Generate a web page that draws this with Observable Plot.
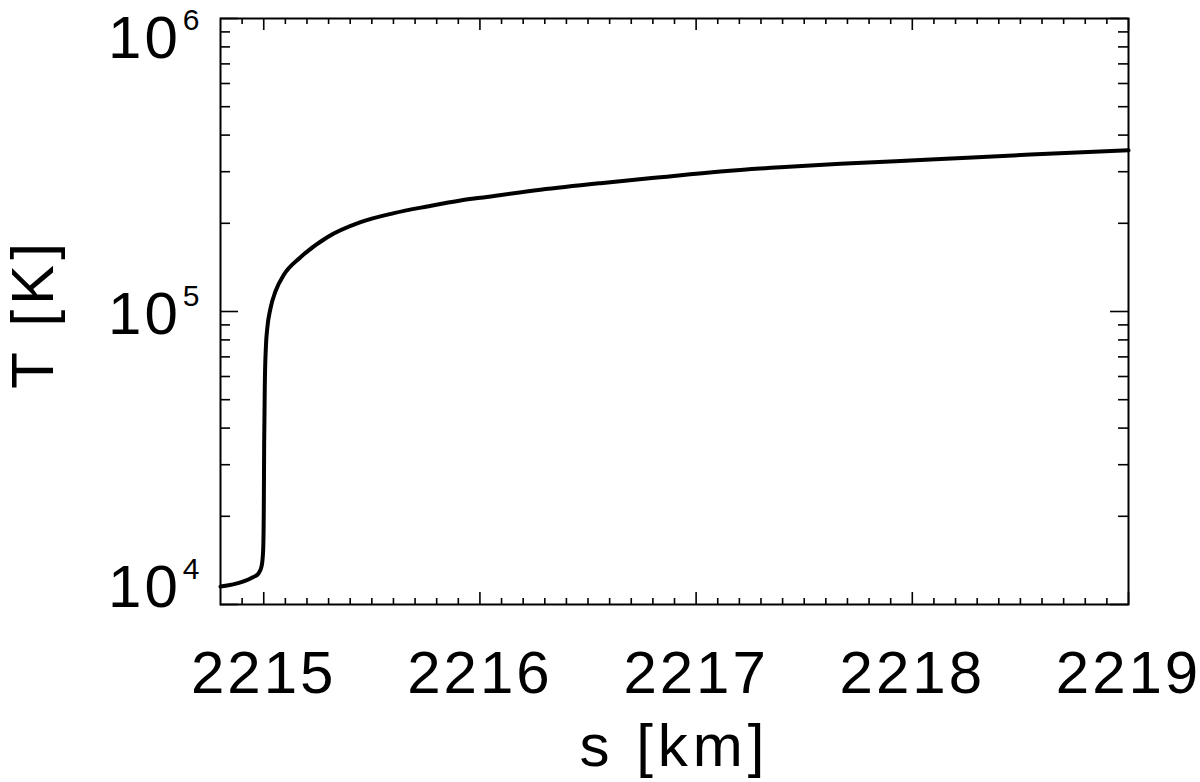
<!DOCTYPE html>
<html>
<head>
<meta charset="utf-8">
<script src="https://cdn.jsdelivr.net/npm/d3@7"></script>
<script src="https://cdn.jsdelivr.net/npm/@observablehq/plot@0.6"></script>
<style>
  html, body { margin: 0; padding: 0; background: #fff; }
  #chart svg text { font-family: "Liberation Sans", Arial, sans-serif; letter-spacing: 3px; }
  #chart svg g.title text { letter-spacing: 5px; }
</style>
</head>
<body>
<div id="chart"></div>
<script>
// Data
const sKm = [2214.80, 2214.90, 2214.95, 2214.975, 2214.99, 2214.997, 2215.000, 2215.002, 2215.005, 2215.010,
             2215.016, 2215.031, 2215.055, 2215.093, 2215.17, 2215.294, 2215.448, 2215.602, 2215.756, 2215.910,
             2216.003, 2216.280, 2216.558, 2216.835, 2217.113, 2217.390, 2217.668, 2218.084, 2218.547, 2219.0];
const tempK = [11510, 11940, 12390, 12740, 13490, 15140, 19950, 35480, 56230, 75860,
               87100, 102300, 117500, 133400, 153100, 179300, 201800, 216600, 228300, 239300,
               244500, 260300, 274200, 287300, 300500, 310800, 319200, 330200, 343400, 354800];

// Axis ticks
const xMajor = [2215, 2216, 2217, 2218, 2219];
const xLabels = ["2215", "2216", "2217", "2218", "2219"];
const xMinor = d3.range(2214.9, 2219.0, 0.1).filter(v => Math.abs(v - Math.round(v)) > 0.01);
const yMajor = [1e4, 1e5, 1e6];
const yExp = ["4", "5", "6"];
const yMinor = [2e4, 3e4, 4e4, 5e4, 6e4, 7e4, 8e4, 9e4, 2e5, 3e5, 4e5, 5e5, 6e5, 7e5, 8e5, 9e5];

const data = sKm.map((s, i) => ({s, T: tempK[i]}));

const W = 1200, H = 782;
const mL = 220, mR = 72, mT = 18, mB = 178;
const iw = W - mL - mR, ih = H - mT - mB;
const yLabelDy = [2, 22, 39];

const chart = Plot.plot({
  width: W,
  height: H,
  marginLeft: mL,
  marginRight: mR,
  marginTop: mT,
  marginBottom: mB,
  x: {domain: [2214.8, 2219], axis: null},
  y: {type: "log", domain: [1e4, 1e6], axis: null},
  marks: [
    // ticks, inward on all four sides
    Plot.tickX(xMajor, {x: d => d, insetTop: ih - 12, stroke: "black", strokeWidth: 1.6}),
    Plot.tickX(xMajor, {x: d => d, insetBottom: ih - 12, stroke: "black", strokeWidth: 1.6}),
    Plot.tickX(xMinor, {x: d => d, insetTop: ih - 6, stroke: "black", strokeWidth: 1.6}),
    Plot.tickX(xMinor, {x: d => d, insetBottom: ih - 6, stroke: "black", strokeWidth: 1.6}),
    Plot.tickY(yMajor, {y: d => d, insetRight: iw - 18, stroke: "black", strokeWidth: 1.6}),
    Plot.tickY(yMajor, {y: d => d, insetLeft: iw - 18, stroke: "black", strokeWidth: 1.6}),
    Plot.tickY(yMinor, {y: d => d, insetRight: iw - 10, stroke: "black", strokeWidth: 1.6}),
    Plot.tickY(yMinor, {y: d => d, insetLeft: iw - 10, stroke: "black", strokeWidth: 1.6}),
    Plot.frame({stroke: "black", strokeWidth: 2}),
    // curve
    Plot.line(data, {x: "s", y: "T", stroke: "black", strokeWidth: 4, curve: "monotone-x"}),
    // x tick labels
    Plot.text(xMajor, {x: d => d, text: (d, i) => xLabels[i], frameAnchor: "bottom", lineAnchor: "bottom",
      dy: 88, fontSize: 60, fill: "black", textAnchor: "middle"}),
    // y tick labels: "10" with superscript exponent
    Plot.text(yMajor, {y: d => d, text: () => "10", frameAnchor: "left", lineAnchor: "bottom",
      dx: -18, dy: 0, fontSize: 60, fill: "black", textAnchor: "end"}),
    // x label
    Plot.text(["s [km]"], {text: d => d, frameAnchor: "bottom", lineAnchor: "bottom", dy: 161,
      fontSize: 60, fill: "black", textAnchor: "middle", className: "title"}),
    // y label
    Plot.text(["T [K]"], {text: d => d, frameAnchor: "left", lineAnchor: "bottom", rotate: -90,
      dx: -168, dy: 2, fontSize: 60, fill: "black", textAnchor: "middle", className: "title"})
  ]
});

// Per-label vertical offsets and superscripts for the y tick labels (IDL-style placement)
const svg = d3.select(chart);
const yLabelNodes = svg.selectAll("g[aria-label='text']").filter((d, i) => i === 1).selectAll("text");
yLabelNodes.each(function(d, i) {
  const t = d3.select(this);
  const tr = t.attr("transform") || "";
  const m = /translate\(([-\d.]+),([-\d.]+)\)/.exec(tr);
  let x = 0, y = 0;
  if (m) { x = +m[1]; y = +m[2]; }
  t.attr("transform", `translate(${x},${y + yLabelDy[i]})`);
  t.text(null);
  t.append("tspan").text("10");
  t.append("tspan").attr("font-size", 30).attr("dy", "-28").attr("dx", "2").text(yExp[i]);
  t.attr("text-anchor", "end");
});
document.getElementById("chart").appendChild(chart);
</script>
</body>
</html>
